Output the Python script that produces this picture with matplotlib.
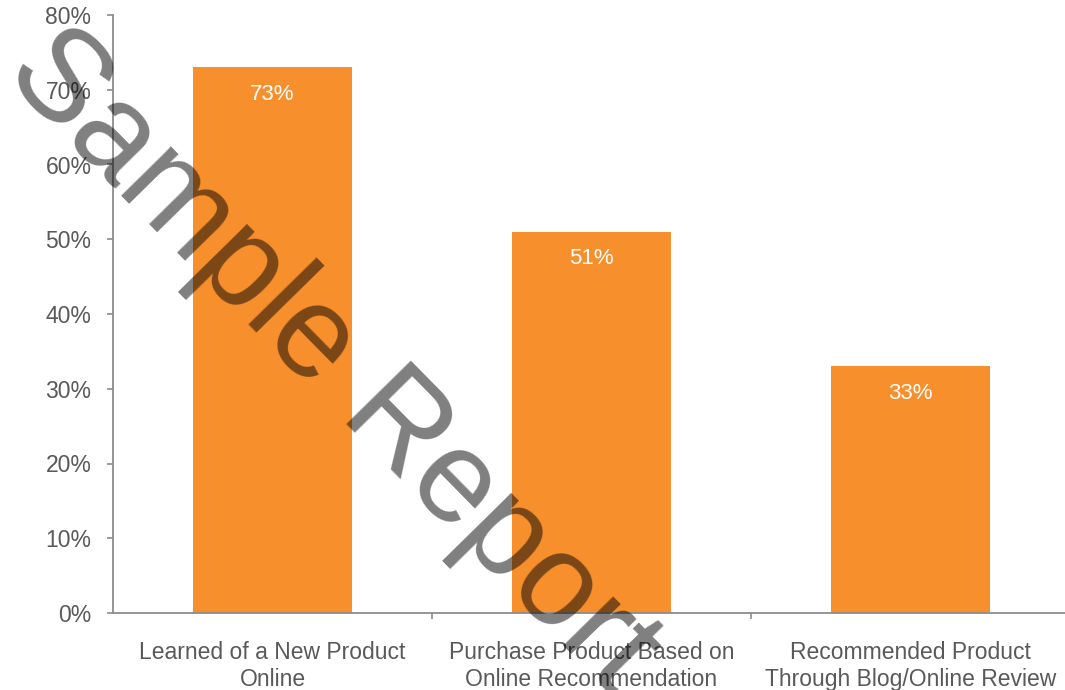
import matplotlib
matplotlib.use("Agg")
import matplotlib.pyplot as plt
from matplotlib.ticker import FuncFormatter

categories = ["Learned of a New Product\nOnline",
              "Purchase Product Based on\nOnline Recommendation",
              "Recommended Product\nThrough Blog/Online Review"]
values = [73, 51, 33]
value_labels = ["73%", "51%", "33%"]
yticks = [0, 10, 20, 30, 40, 50, 60, 70, 80]

W, H = 1065, 690
plt.rcParams['font.family'] = ['Liberation Sans', 'DejaVu Sans']
fig = plt.figure(figsize=(W / 100, H / 100), dpi=100)
ax = fig.add_axes([113 / W, 1 - 613 / H, (1070 - 113) / W, (613 - 15) / H])

bar_color = "#F78F2C"
axis_color = "#8C8C8C"
text_color = "#595959"

x = list(range(len(categories)))
bars = ax.bar(x, values, width=0.5, color=bar_color, zorder=2)
for xi, v, lab in zip(x, values, value_labels):
    ax.annotate(lab, (xi, v), xytext=(0, -19.5), textcoords="offset points",
                ha="center", va="center", color="white", fontsize=16, zorder=3)

ax.set_xlim(-0.5, 2.5)
ax.set_ylim(0, 80)
ax.set_yticks(yticks)
ax.yaxis.set_major_formatter(FuncFormatter(lambda v, p: f"{int(v)}%"))
ax.set_xticks([0.5, 1.5, 2.5])
ax.set_xticklabels([])
ax.set_xticks(x, minor=True)
ax.set_xticklabels(categories, minor=True)
ax.tick_params(axis="x", which="minor", length=0, pad=20.5, labelsize=16.5, labelcolor=text_color)
ax.tick_params(axis="x", which="major", length=4.5, width=1.2, color=axis_color)
ax.tick_params(axis="y", length=4.5, width=1.2, color=axis_color, pad=11,
               labelsize=16.5, labelcolor=text_color)
for s in ["top", "right"]:
    ax.spines[s].set_visible(False)
for s in ["left", "bottom"]:
    ax.spines[s].set_color(axis_color)
    ax.spines[s].set_linewidth(1.3)

# watermark
fig.text(2 / W, 1 - 75 / H, "Sample Report", fontsize=94, rotation=-45.5,
         rotation_mode="anchor", ha="left", va="baseline", color="black",
         alpha=0.5, zorder=10)

fig.savefig("out.png", dpi=100)
